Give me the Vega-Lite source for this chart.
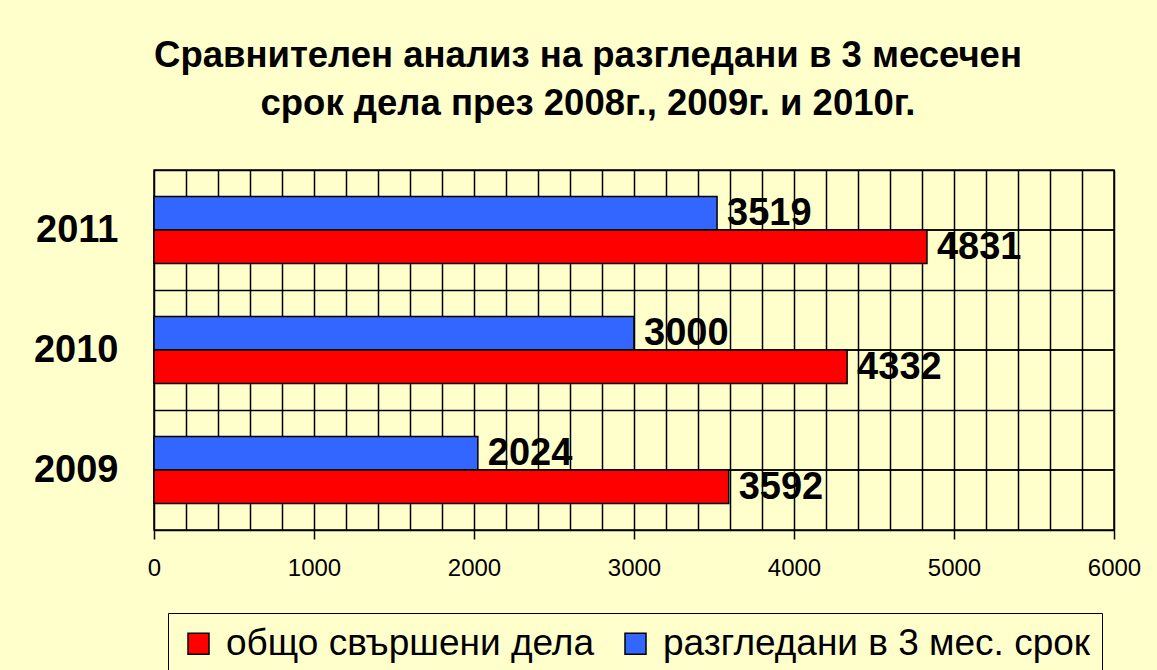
{
  "$schema": "https://vega.github.io/schema/vega-lite/v6.json",
  "autosize": {"type": "none"},
  "padding": {"left": 154, "top": 170, "right": 43, "bottom": 140},
  "width": 960,
  "height": 360,
  "background": "#FFFFCC",
  "title": {
    "text": ["Сравнителен анализ на разгледани в 3 месечен", "срок дела през 2008г., 2009г. и 2010г."],
    "anchor": "middle",
    "frame": "group",
    "dx": -46,
    "offset": 29,
    "fontSize": 36.5,
    "fontWeight": "bold",
    "color": "black",
    "lineHeight": 48
  },
  "data": {
    "values": [
      {"year": "2011", "series": "разгледани в 3 мес. срок", "value": 3519},
      {"year": "2011", "series": "общо свършени дела", "value": 4831},
      {"year": "2010", "series": "разгледани в 3 мес. срок", "value": 3000},
      {"year": "2010", "series": "общо свършени дела", "value": 4332},
      {"year": "2009", "series": "разгледани в 3 мес. срок", "value": 2024},
      {"year": "2009", "series": "общо свършени дела", "value": 3592}
    ]
  },
  "encoding": {
    "y": {
      "field": "year",
      "type": "nominal",
      "scale": {"domain": ["2011", "2010", "2009"], "paddingInner": 0, "paddingOuter": 0},
      "axis": {
        "title": null,
        "grid": true,
        "tickBand": "extent",
        "gridColor": "black",
        "gridWidth": 1.5,
        "gridOpacity": 1,
        "ticks": false,
        "domain": false,
        "labelFontSize": 38,
        "labelFontWeight": "bold",
        "labelColor": "black",
        "labelPadding": 36
      }
    }
  },
  "layer": [
    {
      "mark": {"type": "rule", "color": "black", "strokeWidth": 1.5},
      "encoding": {
        "y": {"field": "year", "type": "nominal", "bandPosition": 0.5}
      }
    },
    {
      "mark": {"type": "bar", "stroke": "black", "strokeWidth": 1.5},
      "encoding": {
        "x": {
          "field": "value",
          "type": "quantitative",
          "scale": {"domain": [0, 6000], "nice": false},
          "axis": {
            "title": null,
            "values": [0,200,400,600,800,1000,1200,1400,1600,1800,2000,2200,2400,2600,2800,3000,3200,3400,3600,3800,4000,4200,4400,4600,4800,5000,5200,5400,5600,5800,6000],
            "tickCount": 100,
            "format": "d",
            "labelExpr": "datum.value % 1000 === 0 ? datum.label : ''",
            "labelFlush": false,
            "grid": true,
            "gridColor": "black",
            "gridWidth": 1.5,
            "gridOpacity": 1,
            "domain": false,
            "tickSize": 9,
            "tickWidth": 1.5,
            "tickColor": {"condition": {"test": "datum.value % 1000 === 0", "value": "black"}, "value": "transparent"},
            "labelFontSize": 24,
            "labelColor": "black",
            "labelPadding": 17,
            "labelOverlap": false
          }
        },
        "yOffset": {
          "field": "series",
          "type": "nominal",
          "scale": {"domain": ["разгледани в 3 мес. срок", "общо свършени дела"], "paddingInner": 0, "paddingOuter": 0.79}
        },
        "color": {
          "field": "series",
          "type": "nominal",
          "scale": {"domain": ["общо свършени дела", "разгледани в 3 мес. срок"], "range": ["#FF0000", "#3366FF"]},
          "legend": {
            "title": null,
            "orient": "none",
            "legendX": 14,
            "legendY": 443,
            "direction": "horizontal",
            "columns": 2,
            "symbolType": "square",
            "symbolSize": 441,
            "symbolStrokeColor": "black",
            "symbolStrokeWidth": 1.5,
            "symbolOpacity": 1,
            "labelFontSize": 37,
            "labelColor": "black",
            "labelLimit": 700,
            "labelOffset": 9,
            "columnPadding": 22,
            "strokeColor": "black",
            "fillColor": "#FFFFCC",
            "padding": 12
          }
        }
      }
    },
    {
      "mark": {"type": "text", "align": "left", "baseline": "middle", "dx": 10, "dy": 1, "fontSize": 38, "fontWeight": "bold", "color": "black"},
      "encoding": {
        "x": {"field": "value", "type": "quantitative"},
        "yOffset": {"field": "series", "type": "nominal"},
        "text": {"field": "value", "type": "quantitative", "format": "d"}
      }
    }
  ],
  "config": {
    "font": "Liberation Sans",
    "view": {"stroke": "black", "strokeWidth": 1.5}
  }
}
